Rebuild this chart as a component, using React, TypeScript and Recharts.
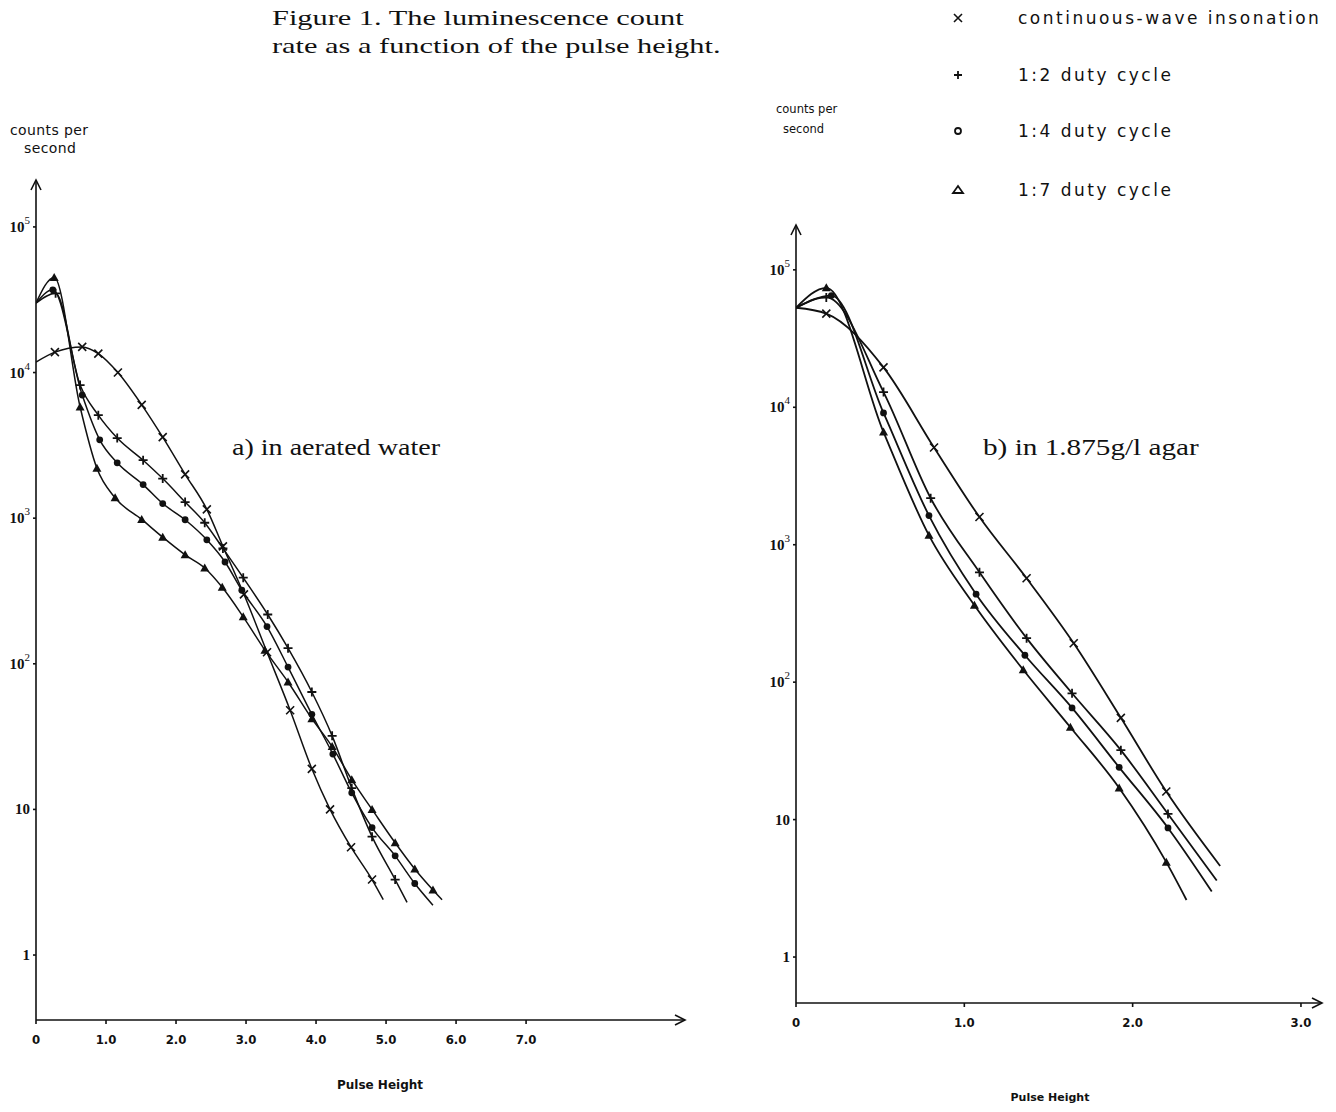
import React from "react";
import { Line, LineChart, ReferenceDot, XAxis, YAxis } from "recharts";

// panel a) aerated water — first and last point of every series are curve ends (no marker)
const cwAX = [0, 0.27, 0.66, 0.89, 1.17, 1.51, 1.81, 2.13, 2.44, 2.67, 2.97, 3.3, 3.63, 3.94, 4.2, 4.5, 4.8, 4.96];
const cwAY = [11800, 13800, 15000, 13500, 10000, 6000, 3600, 2000, 1150, 640, 300, 120, 48, 19, 10, 5.5, 3.3, 2.4];
const d2AX = [0, 0.28, 0.63, 0.89, 1.16, 1.53, 1.81, 2.13, 2.41, 2.67, 2.96, 3.31, 3.6, 3.94, 4.23, 4.51, 4.8, 5.13, 5.3];
const d2AY = [30000, 35000, 8200, 5100, 3550, 2500, 1870, 1290, 930, 620, 390, 218, 128, 64, 32, 14, 6.5, 3.3, 2.3];
const d4AX = [0, 0.24, 0.66, 0.91, 1.16, 1.53, 1.81, 2.13, 2.44, 2.7, 2.94, 3.3, 3.6, 3.94, 4.24, 4.51, 4.8, 5.13, 5.41, 5.67];
const d4AY = [30000, 37000, 7000, 3450, 2400, 1700, 1260, 975, 710, 500, 320, 180, 95, 45, 24, 13, 7.5, 4.8, 3.1, 2.2];
const d7AX = [0, 0.26, 0.63, 0.87, 1.13, 1.51, 1.81, 2.13, 2.41, 2.66, 2.96, 3.27, 3.6, 3.94, 4.23, 4.51, 4.8, 5.13, 5.41, 5.67, 5.8];
const d7AY = [30000, 45000, 5800, 2200, 1380, 980, 740, 560, 455, 335, 210, 124, 75, 42, 27, 16, 10, 5.9, 3.9, 2.8, 2.4];

// panel b) 1.875 g/l agar
const cwBX = [0, 0.18, 0.52, 0.82, 1.09, 1.37, 1.65, 1.93, 2.2, 2.52];
const cwBY = [53000, 48000, 19500, 5100, 1590, 570, 192, 55, 16, 4.6];
const d2BX = [0, 0.18, 0.52, 0.8, 1.09, 1.37, 1.64, 1.93, 2.21, 2.5];
const d2BY = [53000, 63000, 12900, 2180, 630, 209, 83, 32, 11, 3.6];
const d4BX = [0, 0.21, 0.52, 0.79, 1.07, 1.36, 1.64, 1.92, 2.21, 2.47];
const d4BY = [53000, 65000, 9100, 1630, 437, 157, 65, 24, 8.7, 3.0];
const d7BX = [0, 0.18, 0.52, 0.79, 1.06, 1.35, 1.63, 1.92, 2.2, 2.32];
const d7BY = [53000, 74000, 6600, 1170, 363, 123, 47, 17, 4.9, 2.6];

const yTicks = [1, 10, 100, 1000, 10000, 100000];
const xTicksA = [0, 1, 2, 3, 4, 5, 6, 7];
const xTicksB = [0, 1, 2, 3];

const legendItems = [
  { kind: "x", label: "continuous-wave insonation" },
  { kind: "+", label: "1:2 duty cycle" },
  { kind: "o", label: "1:4 duty cycle" },
  { kind: "t", label: "1:7 duty cycle" },
];

const ink = "#111";
const zip = (xs: number[], ys: number[]) => xs.map((x, i) => ({ x, y: ys[i] }));

function Marker({ cx, cy, kind }: { cx: number; cy: number; kind: string }) {
  if (kind === "x")
    return <path d={`M${cx - 4} ${cy - 4}L${cx + 4} ${cy + 4}M${cx - 4} ${cy + 4}L${cx + 4} ${cy - 4}`} stroke={ink} strokeWidth={1.6} />;
  if (kind === "+")
    return <path d={`M${cx - 4.5} ${cy}L${cx + 4.5} ${cy}M${cx} ${cy - 4.5}L${cx} ${cy + 4.5}`} stroke={ink} strokeWidth={1.8} />;
  if (kind === "o") return <circle cx={cx} cy={cy} r={3.4} fill={ink} />;
  return <path d={`M${cx} ${cy - 4.5}L${cx + 4.5} ${cy + 3.5}L${cx - 4.5} ${cy + 3.5}Z`} fill={ink} />;
}

const makeDot = (kind: string, count: number) => (p: any) => {
  if (p.index === 0 || p.index === count - 1 || p.cx == null) return <g key={p.index} />;
  return (
    <g key={p.index}>
      <Marker cx={p.cx} cy={p.cy} kind={kind} />
    </g>
  );
};

const YTick = ({ x, y, payload }: any) => {
  const e = Math.round(Math.log10(payload.value));
  return (
    <text x={x} y={y + 5} textAnchor="end" fontFamily="'Liberation Serif', serif" fontSize={15} fontWeight="bold" fill={ink}>
      {e === 0 ? "1" : "10"}
      {e > 1 && (
        <tspan dy={-8} fontSize={11} fontWeight="normal">
          {e}
        </tspan>
      )}
    </text>
  );
};

const XTick = ({ x, y, payload }: any) => (
  <text x={x} y={y + 18} textAnchor="middle" fontFamily="'DejaVu Sans Condensed', 'DejaVu Sans', sans-serif" fontSize={13} fontWeight="bold" fill={ink}>
    {payload.value === 0 ? "0" : payload.value.toFixed(1)}
  </text>
);

type Panel = {
  left: number;
  width: number;
  margin: { top: number; right: number; bottom: number; left: number };
  yWidth: number;
  xDomain: [number, number];
  yDomain: [number, number];
  xTicks: number[];
  series: { kind: string; xs: number[]; ys: number[] }[];
  stroke: number;
};

function Chart({ p }: { p: Panel }) {
  return (
    <div style={{ position: "absolute", left: p.left, top: 0 }}>
      <LineChart width={p.width} height={1112} margin={p.margin}>
        <XAxis
          dataKey="x"
          type="number"
          domain={p.xDomain}
          ticks={p.xTicks}
          allowDataOverflow
          height={30}
          stroke={ink}
          strokeWidth={1.6}
          tickSize={4}
          tick={<XTick />}
        />
        <YAxis
          dataKey="y"
          scale="log"
          domain={p.yDomain}
          ticks={yTicks}
          allowDataOverflow
          width={p.yWidth}
          stroke={ink}
          strokeWidth={1.6}
          tickSize={3}
          tickMargin={3}
          tick={<YTick />}
        />
        {p.series.map((s) => (
          <Line
            key={s.kind}
            data={zip(s.xs, s.ys)}
            dataKey="y"
            type="monotone"
            stroke={ink}
            strokeWidth={p.stroke}
            dot={makeDot(s.kind, s.xs.length)}
            activeDot={false}
            isAnimationActive={false}
          />
        ))}
        <ReferenceDot
          x={0}
          y={p.yDomain[1]}
          ifOverflow="visible"
          shape={(d: any) => <path d={`M${d.cx - 5} ${d.cy + 10}L${d.cx} ${d.cy}L${d.cx + 5} ${d.cy + 10}`} stroke={ink} strokeWidth={1.6} fill="none" />}
        />
        <ReferenceDot
          x={p.xDomain[1]}
          y={p.yDomain[0]}
          ifOverflow="visible"
          shape={(d: any) => <path d={`M${d.cx - 10} ${d.cy - 5}L${d.cx} ${d.cy}L${d.cx - 10} ${d.cy + 5}`} stroke={ink} strokeWidth={1.6} fill="none" />}
        />
      </LineChart>
    </div>
  );
}

const panelA: Panel = {
  left: 0,
  width: 720,
  margin: { top: 180, right: 35, bottom: 62, left: 0 },
  yWidth: 36,
  xDomain: [0, 9.27],
  yDomain: [0.358, 210000],
  xTicks: xTicksA,
  series: [
    { kind: "x", xs: cwAX, ys: cwAY },
    { kind: "+", xs: d2AX, ys: d2AY },
    { kind: "o", xs: d4AX, ys: d4AY },
    { kind: "t", xs: d7AX, ys: d7AY },
  ],
  stroke: 1.5,
};

const panelB: Panel = {
  left: 720,
  width: 616,
  margin: { top: 225, right: 14, bottom: 79, left: 0 },
  yWidth: 76,
  xDomain: [0, 3.125],
  yDomain: [0.463, 212000],
  xTicks: xTicksB,
  series: [
    { kind: "x", xs: cwBX, ys: cwBY },
    { kind: "+", xs: d2BX, ys: d2BY },
    { kind: "o", xs: d4BX, ys: d4BY },
    { kind: "t", xs: d7BX, ys: d7BY },
  ],
  stroke: 1.8,
};

const serif = "'Liberation Serif', 'Times New Roman', serif";
const sans = "'DejaVu Sans', sans-serif";

function Txt({ x, y, size, children, font = serif, weight = "normal", spacing = 0, center = false, stretch = 1 }: any) {
  return (
    <div
      style={{
        position: "absolute",
        left: x,
        top: y - size / 2,
        fontSize: size,
        lineHeight: 1,
        fontFamily: font,
        fontWeight: weight,
        letterSpacing: spacing,
        whiteSpace: "nowrap",
        color: ink,
        transformOrigin: "left center",
        transform: center ? "translateX(-50%)" : stretch !== 1 ? `scaleX(${stretch})` : undefined,
      }}
    >
      {children}
    </div>
  );
}

function LegendGlyph({ kind }: { kind: string }) {
  return (
    <svg width={16} height={16} style={{ position: "absolute", left: 950, top: 0 }}>
      {kind === "x" && <path d="M4 4L12 12M4 12L12 4" stroke={ink} strokeWidth={1.6} />}
      {kind === "+" && <path d="M4 8L12 8M8 4L8 12" stroke={ink} strokeWidth={1.8} />}
      {kind === "o" && <circle cx={8} cy={8} r={3} fill="none" stroke={ink} strokeWidth={1.8} />}
      {kind === "t" && <path d="M8 4L13 11L3 11Z" fill="none" stroke={ink} strokeWidth={1.8} />}
    </svg>
  );
}

export default function App() {
  const rows = [18, 75, 131, 190];
  return (
    <div style={{ position: "absolute", left: 0, top: 0, width: 1336, height: 1112, background: "#fff", overflow: "hidden" }}>
      <Chart p={panelA} />
      <Chart p={panelB} />

      <Txt x={272} y={18} size={22} stretch={1.38}>Figure 1. The luminescence count</Txt>
      <Txt x={272} y={46} size={22} stretch={1.38}>rate as a function of the pulse height.</Txt>

      <Txt x={232} y={447} size={23} stretch={1.22}>a) in aerated water</Txt>
      <Txt x={983} y={447} size={23} stretch={1.27}>b) in 1.875g/l agar</Txt>

      <Txt x={10} y={130} size={14} font={sans} spacing={0.4}>counts per</Txt>
      <Txt x={24} y={148} size={14} font={sans} spacing={0.4}>second</Txt>
      <Txt x={776} y={110} size={11.5} font={sans}>counts per</Txt>
      <Txt x={783} y={130} size={11.5} font={sans}>second</Txt>

      <Txt x={380} y={1085} size={12} font={sans} weight="bold" center>Pulse Height</Txt>
      <Txt x={1050} y={1097} size={11} font={sans} weight="bold" center>Pulse Height</Txt>

      {legendItems.map((it, i) => (
        <div key={it.label} style={{ position: "absolute", left: 0, top: rows[i] - 8 }}>
          <LegendGlyph kind={it.kind} />
          <div style={{ position: "absolute", left: 1018, top: 0, fontFamily: sans, fontSize: 17, lineHeight: "16px", letterSpacing: 2.5, whiteSpace: "nowrap", color: ink }}>
            {it.label}
          </div>
        </div>
      ))}
    </div>
  );
}
